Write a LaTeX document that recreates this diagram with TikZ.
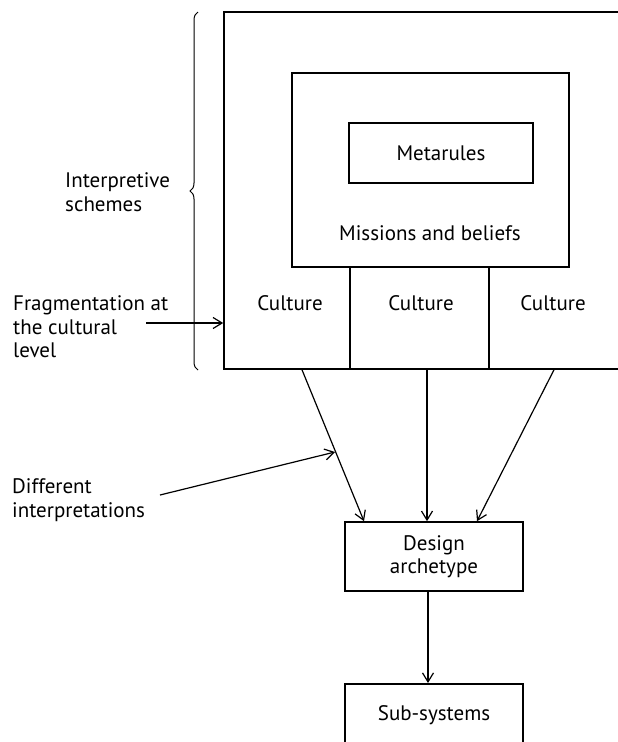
\documentclass[tikz,border=0pt]{standalone}
\usepackage{fontspec}
\setmainfont{PT Sans}
\usetikzlibrary{arrows.meta,decorations.pathreplacing,calc}
\begin{document}
\begin{tikzpicture}[x=1pt,y=-1pt,
  box/.style={draw, line width=1.6pt, rectangle, inner sep=0pt},
  txt/.style={font=\fontsize{21}{23.5}\selectfont, inner sep=0pt, align=center},
  lbl/.style={font=\fontsize{21}{23.5}\selectfont, inner sep=0pt, align=left, anchor=west},
  arr/.style={line width=1.2pt, -{Straight Barb[length=9pt,width=11pt,line width=1.2pt]}}
]
\clip (0,0) rectangle (618,742);
\fill[white] (0,0) rectangle (618,742);

% nested boxes of the interpretive scheme
\node[box, minimum width=436pt, minimum height=357pt] (outer) at (442,190.5) {};
\node[box, minimum width=277pt, minimum height=194pt] (mission) at (430.5,170) {};
\node[box, txt, minimum width=184pt, minimum height=60pt] (meta) at (441,153) {Metarules};
\node[txt] (beliefs) at (430,233) {Missions and beliefs};

% cultural sub-divisions
\draw[line width=1.6pt] (mission.south -| 350,0) -- (outer.south -| 350,0);
\draw[line width=1.6pt] (mission.south -| 489,0) -- (outer.south -| 489,0);
\node[txt] (cult1) at (290,303) {Culture};
\node[txt] (cult2) at (421,303) {Culture};
\node[txt] (cult3) at (553,303) {Culture};

% lower boxes
\node[box, txt, minimum width=178pt, minimum height=69pt] (design) at (434,556.5) {Design\\archetype};
\node[box, txt, minimum width=178pt, minimum height=62pt, anchor=north] (sub) at (434,683) {Sub-systems};

% brace and side labels
\draw[line width=1pt, decorate, decoration={brace, amplitude=8pt}] (198,370) -- (198,12);
\node[lbl] (interp) at (65,192) {Interpretive\\schemes};
\node[lbl] (frag) at (13,327) {Fragmentation at\\the cultural\\level};
\node[lbl] (diff) at (12,500) {Different\\interpretations};

\coordinate (fragtail) at (146,323);
\coordinate (difftail) at (160,495);
\coordinate (diffhead) at (335,452);

% connectors
\draw[arr] (fragtail) -- (outer.west |- fragtail);
\draw[arr] (outer.south -| 302,0) -- (design.north -| 364,0);
\draw[arr] (outer.south -| 427,0) -- (design.north -| 427,0);
\draw[arr] (outer.south -| 554,0) -- (design.north -| 477,0);
\draw[arr] (difftail) -- (diffhead);
\draw[arr] (design.south -| 428,0) -- (sub.north -| 428,0);
\end{tikzpicture}
\end{document}
